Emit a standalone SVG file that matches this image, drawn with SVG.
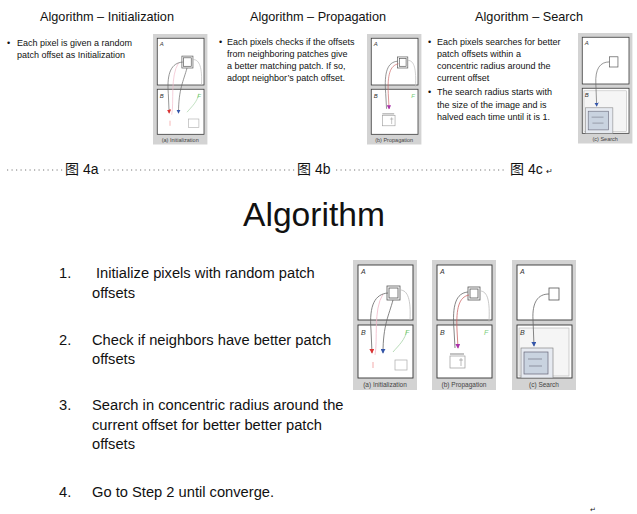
<svg xmlns="http://www.w3.org/2000/svg" width="637" height="514" viewBox="0 0 637 514">
<style>
text{font-family:"Liberation Sans","Noto Sans CJK SC",Arial,sans-serif;fill:#111}
.title{font-size:12.7px;text-anchor:middle}
.bul{font-size:9px}
.item{font-size:14.7px}
.cap{font-size:6.5px;text-anchor:middle;fill:#444}
.lab{font-size:7px;font-style:italic;fill:#333}
.labF{font-size:7px;font-style:italic;fill:#7c7}
.frame{fill:#d3d3d3}
.box{fill:#fff;stroke:#333;stroke-width:0.9}
.patch{fill:none;stroke:#555;stroke-width:0.8}
.curve{fill:none;stroke:#666;stroke-width:0.8}
.dots{stroke:#777;stroke-width:1;stroke-dasharray:1.2 3.3}
</style>
<defs>
<marker id="mr" viewBox="0 0 6 6" refX="5" refY="3" markerWidth="5" markerHeight="5" orient="auto" markerUnits="userSpaceOnUse"><path d="M0,0 L6,3 L0,6 Z" fill="#d33"/></marker>
<marker id="mb" viewBox="0 0 6 6" refX="5" refY="3" markerWidth="5" markerHeight="5" orient="auto" markerUnits="userSpaceOnUse"><path d="M0,0 L6,3 L0,6 Z" fill="#35a"/></marker>
<marker id="mp" viewBox="0 0 6 6" refX="5" refY="3" markerWidth="5" markerHeight="5" orient="auto" markerUnits="userSpaceOnUse"><path d="M0,0 L6,3 L0,6 Z" fill="#a3a"/></marker>
<g id="frameShape">
<rect class="frame" x="0" y="0" width="64" height="130"/>
<rect class="box" x="5" y="5" width="55" height="55"/>
<rect class="box" x="5" y="65" width="55" height="53"/>
</g>
<g id="contentA">
<rect class="patch" x="34" y="26" width="13" height="14"/>
<rect class="patch" x="36" y="28" width="9" height="10" stroke="#888"/>
<path d="M30,34 C20,50 25,80 22,95" fill="none" stroke="#f0b8c8" stroke-width="0.8"/>
<path class="curve" d="M35,33 C22,34 16,45 18,70 L19,93" marker-end="url(#mr)"/>
<path class="curve" d="M40,40 C36,55 30,65 30,93" marker-end="url(#mb)"/>
<path d="M47,30 C55,30 58,40 57,60" fill="none" stroke="#bbb" stroke-width="0.8"/>
<path d="M54,70 C52,80 46,85 40,92" fill="none" stroke="#9c9" stroke-width="0.7"/>
<rect x="42" y="100" width="12" height="10" fill="none" stroke="#aaa" stroke-width="0.7"/>
<path d="M20,102 L20,108" stroke="#e88" stroke-width="0.7"/>
</g>
<g id="contentB">
<rect class="patch" x="36" y="27" width="12" height="13"/>
<rect class="patch" x="38" y="29" width="8" height="9" stroke="#888"/>
<path class="curve" d="M36,32 C24,33 20,45 22,70 L23,88" stroke="#555"/>
<path d="M37,35 C27,37 24,48 25,70 L26,88" fill="none" stroke="#c66" stroke-width="0.8" marker-end="url(#mp)"/>
<path d="M48,31 C56,31 58,42 57,62" fill="none" stroke="#bbb" stroke-width="0.8"/>
<path d="M18,94 L32,94" stroke="#555" stroke-width="0.7"/>
<rect x="18" y="96" width="15" height="12" fill="none" stroke="#999" stroke-width="0.7"/>
<path d="M29,98 L29,106 M27,100 L31,100" stroke="#777" stroke-width="0.5"/>
</g>
<g id="contentC">
<rect x="7" y="68" width="50" height="48" fill="#f5f5f5" stroke="#bbb" stroke-width="0.7"/>
<rect class="patch" x="37" y="28" width="10" height="12" stroke="#888"/>
<path class="curve" d="M37,34 C26,34 20,42 21,60 L22,86" stroke="#667" marker-end="url(#mb)"/>
<rect x="9" y="88" width="32" height="30" fill="#e6eaf1" stroke="#888" stroke-width="0.7"/>
<rect x="12" y="92" width="24" height="22" fill="#c9d3e0" stroke="#667" stroke-width="0.7"/>
<path d="M16,99 L30,99 M17,106 L30,106" stroke="#667" stroke-width="0.6"/>
</g>
</defs>
<rect width="637" height="514" fill="#fff"/>

<g id="slide-init">
<text class="title" x="107" y="21">Algorithm – Initialization</text>
<text class="bul" x="7" y="46">•</text>
<text class="bul" x="17" y="46">Each pixel is given a random</text>
<text class="bul" x="17" y="58">patch offset as Initialization</text>
</g>
<g id="fig-a-top" transform="translate(153,34) scale(0.85)">
<use href="#frameShape"/>
<use href="#contentA"/>
<text class="lab" x="8" y="14">A</text>
<text class="lab" x="8" y="75">B</text>
<text class="labF" x="52" y="75">F</text>
<text class="cap" x="32" y="127">(a) Initialization</text>
</g>

<g id="slide-prop">
<text class="title" x="318" y="21">Algorithm – Propagation</text>
<text class="bul" x="219" y="45">•</text>
<text class="bul" x="227" y="45">Each pixels checks if the offsets</text>
<text class="bul" x="227" y="57">from neighboring patches give</text>
<text class="bul" x="227" y="69">a better matching patch. If so,</text>
<text class="bul" x="227" y="81">adopt neighbor’s patch offset.</text>
</g>
<g id="fig-b-top" transform="translate(367,34) scale(0.85)">
<use href="#frameShape"/>
<use href="#contentB"/>
<text class="lab" x="8" y="14">A</text>
<text class="lab" x="8" y="75">B</text>
<text class="labF" x="52" y="75">F</text>
<text class="cap" x="32" y="127">(b) Propagation</text>
</g>

<g id="slide-search">
<text class="title" x="529" y="21">Algorithm – Search</text>
<text class="bul" x="428" y="45">•</text>
<text class="bul" x="437" y="45">Each pixels searches for better</text>
<text class="bul" x="437" y="57">patch offsets within a</text>
<text class="bul" x="437" y="69">concentric radius around the</text>
<text class="bul" x="437" y="81">current offset</text>
<text class="bul" x="428" y="95">•</text>
<text class="bul" x="437" y="95">The search radius starts with</text>
<text class="bul" x="437" y="108">the size of the image and is</text>
<text class="bul" x="437" y="120">halved each time until it is 1.</text>
</g>
<g id="fig-c-top" transform="translate(578,33) scale(0.85)">
<use href="#frameShape"/>
<use href="#contentC"/>
<text class="lab" x="8" y="14">A</text>
<text class="lab" x="8" y="75">B</text>
<text class="cap" x="32" y="127">(c) Search</text>
</g>

<g id="fig-labels">
<line class="dots" x1="7" y1="170" x2="63" y2="170"/>
<text x="65" y="174" font-size="14">图 4a</text>
<line class="dots" x1="104" y1="170" x2="295" y2="170"/>
<text x="297" y="174" font-size="14">图 4b</text>
<line class="dots" x1="336" y1="170" x2="507" y2="170"/>
<text x="510" y="174" font-size="14">图 4c</text>
<text x="546" y="174" font-size="8" fill="#666">↵</text>
</g>

<g id="main-title">
<text x="314" y="226" font-size="33.6" text-anchor="middle">Algorithm</text>
</g>

<g id="steps">
<text class="item" x="59" y="278">1.</text>
<text class="item" x="96" y="278">Initialize pixels with random patch</text>
<text class="item" x="92" y="298">offsets</text>
<text class="item" x="59" y="345">2.</text>
<text class="item" x="92" y="345">Check if neighbors have better patch</text>
<text class="item" x="92" y="364">offsets</text>
<text class="item" x="59" y="410">3.</text>
<text class="item" x="92" y="410">Search in concentric radius around the</text>
<text class="item" x="92" y="430">current offset for better better patch</text>
<text class="item" x="92" y="449">offsets</text>
<text class="item" x="59" y="497">4.</text>
<text class="item" x="92" y="497">Go to Step 2 until converge.</text>
</g>

<g id="fig-a" transform="translate(353,260)">
<use href="#frameShape"/>
<use href="#contentA"/>
<text class="lab" x="8" y="14">A</text>
<text class="lab" x="8" y="75">B</text>
<text class="labF" x="52" y="75">F</text>
<text class="cap" x="32" y="127">(a) Initialization</text>
</g>
<g id="fig-b" transform="translate(432,260)">
<use href="#frameShape"/>
<use href="#contentB"/>
<text class="lab" x="8" y="14">A</text>
<text class="lab" x="8" y="75">B</text>
<text class="labF" x="52" y="75">F</text>
<text class="cap" x="32" y="127">(b) Propagation</text>
</g>
<g id="fig-c" transform="translate(512,260)">
<use href="#frameShape"/>
<use href="#contentC"/>
<text class="lab" x="8" y="14">A</text>
<text class="lab" x="8" y="75">B</text>
<text class="cap" x="32" y="127">(c) Search</text>
</g>
<text x="590" y="512" font-size="7" fill="#666">↵</text>
</svg>
